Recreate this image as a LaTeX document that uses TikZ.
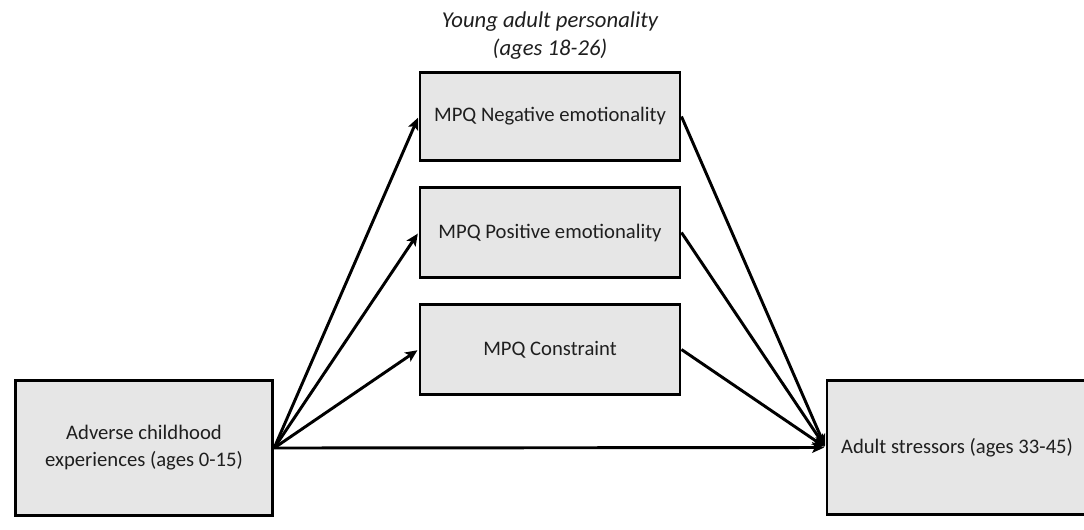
\documentclass[tikz,border=0pt]{standalone}
\usepackage{fontspec}
\setmainfont{Carlito}
\usetikzlibrary{arrows.meta}
\begin{document}
\begin{tikzpicture}[x=0.75pt,y=-0.75pt,
  box/.style={draw=black,line width=2.2pt,fill=boxgrey,inner sep=0pt,align=center,
    font=\fontsize{15.5}{20.3}\selectfont,text=black!88},
  conn/.style={line width=2.2pt,-{Stealth[length=9pt,width=8pt,inset=2pt]},shorten >=1pt},
  title/.style={align=center,font=\fontsize{17}{21}\selectfont\itshape,text=black!88}]
\definecolor{boxgrey}{HTML}{E6E6E6}
\useasboundingbox (0,0) rectangle (1084,529);
\clip (0,0) rectangle (1084,529);
\node[box,minimum width=193pt,minimum height=101pt] (ace) at (144,448) {Adverse childhood\\experiences (ages 0-15)};
\node[box,minimum width=195pt,minimum height=101pt] (adult) at (957,447.5) {Adult stressors (ages 33-45)};
\node[box,minimum width=195pt,minimum height=66pt] (neg) at (550,116.5) {MPQ Negative emotionality};
\node[box,minimum width=195pt,minimum height=67pt] (pos) at (550,232.5) {MPQ Positive emotionality};
\node[box,minimum width=195pt,minimum height=67pt] (con) at (550,349.5) {MPQ Constraint};
\node[title] (ttl) at (550,36) {Young adult personality\\(ages 18-26)};
\draw[conn] (ace.east) -- (neg.west);
\draw[conn] (ace.east) -- (pos.west);
\draw[conn] (ace.east) -- (con.west);
\draw[conn] (ace.east) -- (adult.west);
\draw[conn] (neg.east) -- (adult.west);
\draw[conn] (pos.east) -- (adult.west);
\draw[conn] (con.east) -- (adult.west);
\end{tikzpicture}
\end{document}
